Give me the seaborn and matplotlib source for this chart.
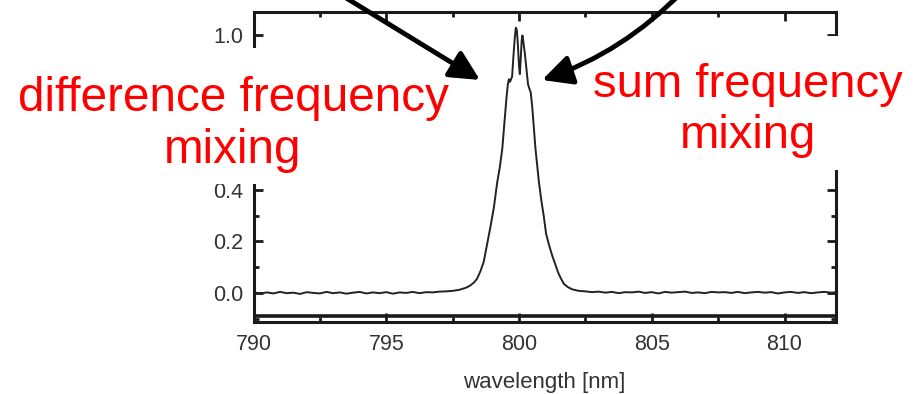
import numpy as np
import pandas as pd
import matplotlib
matplotlib.use("Agg")
import matplotlib.pyplot as plt
from matplotlib.patches import Rectangle, FancyArrowPatch
from matplotlib.ticker import MultipleLocator, FormatStrFormatter
import seaborn as sns

# --- spectrum: flat background on the blue side -------------------------
wl_blue = [790.0, 790.25, 790.5, 790.75, 791.0, 791.25, 791.5, 791.75,
           792.0, 792.25, 792.5, 792.75, 793.0, 793.25, 793.5, 793.75,
           794.0, 794.25, 794.5, 794.75, 795.0, 795.25, 795.5, 795.75,
           796.0, 796.25, 796.5, 796.75, 797.0]
int_blue = [0.003, -0.003, 0.002, -0.002, 0.004, -0.001, 0.001, -0.004,
            0.003, 0.000, -0.002, 0.004, -0.001, 0.002, -0.003, 0.001,
            0.004, -0.002, 0.002, -0.001, 0.003, -0.003, 0.002, 0.000,
            0.004, -0.001, 0.003, 0.002, 0.005]

# --- spectrum: the peak around 800 nm ------------------------------------
wl_peak = [797.25, 797.5, 797.75, 798.0, 798.15, 798.3, 798.42, 798.55,
           798.67, 798.8, 798.93, 799.05, 799.18, 799.28, 799.37, 799.45,
           799.53, 799.58, 799.62, 799.66, 799.7, 799.74, 799.79, 799.84,
           799.88, 799.92, 799.96, 800.0, 800.03, 800.06, 800.1, 800.13,
           800.17, 800.22, 800.28, 800.34, 800.4, 800.44, 800.5, 800.56,
           800.62, 800.69, 800.75, 800.84, 800.93, 801.02, 801.12, 801.25,
           801.37, 801.47, 801.56, 801.69, 801.85, 802.0, 802.25]
int_peak = [0.006, 0.008, 0.012, 0.020, 0.028, 0.040, 0.055, 0.085,
            0.12, 0.19, 0.26, 0.33, 0.43, 0.49, 0.56, 0.66,
            0.76, 0.81, 0.83, 0.82, 0.83, 0.84, 0.92, 0.99,
            1.03, 1.02, 0.96, 0.88, 0.85, 0.90, 0.98, 1.00,
            0.97, 0.93, 0.87, 0.81, 0.79, 0.78, 0.72, 0.64,
            0.56, 0.49, 0.43, 0.36, 0.30, 0.23, 0.19, 0.145,
            0.11, 0.08, 0.06, 0.035, 0.022, 0.014, 0.008]

# --- spectrum: flat background on the red side ---------------------------
wl_red = [802.5, 802.75, 803.0, 803.25, 803.5, 803.75, 804.0, 804.25,
          804.5, 804.75, 805.0, 805.25, 805.5, 805.75, 806.0, 806.25,
          806.5, 806.75, 807.0, 807.25, 807.5, 807.75, 808.0, 808.25,
          808.5, 808.75, 809.0, 809.25, 809.5, 809.75, 810.0, 810.25,
          810.5, 810.75, 811.0, 811.25, 811.5, 811.75, 812.0]
int_red = [0.006, 0.003, 0.005, 0.001, 0.004, -0.001, 0.003, 0.002,
           0.005, 0.000, 0.003, -0.002, 0.004, 0.001, 0.003, 0.005,
           0.000, 0.002, -0.001, 0.004, 0.002, 0.003, 0.000, 0.004,
           -0.001, 0.002, 0.004, 0.001, 0.003, -0.002, 0.002, 0.004,
           0.000, 0.003, -0.001, 0.002, 0.004, 0.001, 0.003]

x_ticks = [790, 795, 800, 805, 810]
y_ticks = [0.0, 0.2, 0.4, 0.6, 0.8, 1.0]
# tick values whose labels sit under the left annotation panel
y_ticks_covered = [0.6, 0.8]

df = pd.DataFrame({
    "wavelength": wl_blue + wl_peak + wl_red,
    "intensity": int_blue + int_peak + int_red,
})

sns.set_style("ticks")
plt.rcParams["font.family"] = ["Liberation Sans", "DejaVu Sans"]

W, H = 917, 394
fig = plt.figure(figsize=(W / 100, H / 100), dpi=100)
ax = fig.add_axes([253.5 / W, 1 - 321.5 / H, (835.5 - 253.5) / W, (321.5 - 12) / H])

sns.lineplot(data=df, x="wavelength", y="intensity", ax=ax,
             color="#222222", linewidth=1.4, estimator=None, sort=False)

ax.set_xlim(790, 811.92)
ax.set_ylim(-0.111, 1.091)

frame = "#1a1a1a"
for s in ax.spines.values():
    s.set_visible(True)
    s.set_linewidth(2.2)
    s.set_color(frame)
# inner rule just above the bottom frame line
ax.axhline(-0.089, color=frame, lw=2.6, zorder=3)

ax.set_xticks(x_ticks)
ax.set_yticks(y_ticks)
ax.xaxis.set_minor_locator(MultipleLocator(2.5))
ax.yaxis.set_minor_locator(MultipleLocator(0.1))
ax.yaxis.set_major_formatter(FormatStrFormatter("%.1f"))
ax.tick_params(which="both", direction="in", top=True, right=True,
               color=frame, labelcolor="#333333", labelsize=15.5)
ax.tick_params(which="major", length=6.5, width=2.0)
ax.tick_params(which="minor", length=3.5, width=2.0)
ax.tick_params(axis="x", which="major", pad=9)
ax.tick_params(axis="y", which="major", pad=7.5)

fig.canvas.draw()
for val, lab in zip(ax.get_yticks(), ax.get_yticklabels()):
    if any(abs(val - c) < 1e-9 for c in y_ticks_covered):
        lab.set_visible(False)

ax.set_xlabel("wavelength [nm]", fontsize=16, color="#333333", labelpad=12)
ax.set_ylabel("")

# white label panels
fig.add_artist(Rectangle((0, 1 - 184 / H), 452 / W, (184 - 48) / H,
                         transform=fig.transFigure, facecolor="white",
                         edgecolor="none", zorder=2))
fig.add_artist(Rectangle((585 / W, 1 - 170 / H), (W - 585) / W, (170 - 36) / H,
                         transform=fig.transFigure, facecolor="white",
                         edgecolor="none", zorder=2))

red = "#ff0000"
fig.text(233 / W, 1 - 163 / H, "difference frequency\nmixing", ha="center",
         va="baseline", multialignment="center", color=red, fontsize=34.3,
         zorder=5)
fig.text(748 / W, 1 - 148 / H, "sum frequency\nmixing", ha="center",
         va="baseline", multialignment="center", color=red, fontsize=34,
         zorder=5)

style = "-|>,head_length=0.9,head_width=0.45"
fig.add_artist(FancyArrowPatch(posA=(792.88, 1.184), posB=(798.53, 0.827),
                               transform=ax.transData, arrowstyle=style,
                               mutation_scale=20, lw=3.5, color="black",
                               shrinkA=0, shrinkB=0, zorder=4))
fig.add_artist(FancyArrowPatch(posA=(806.14, 1.169), posB=(800.87, 0.827),
                               transform=ax.transData, arrowstyle=style,
                               connectionstyle="arc3,rad=-0.12",
                               mutation_scale=20, lw=3.5, color="black",
                               shrinkA=0, shrinkB=0, zorder=4))

fig.savefig("out.png", dpi=100, facecolor="white")
